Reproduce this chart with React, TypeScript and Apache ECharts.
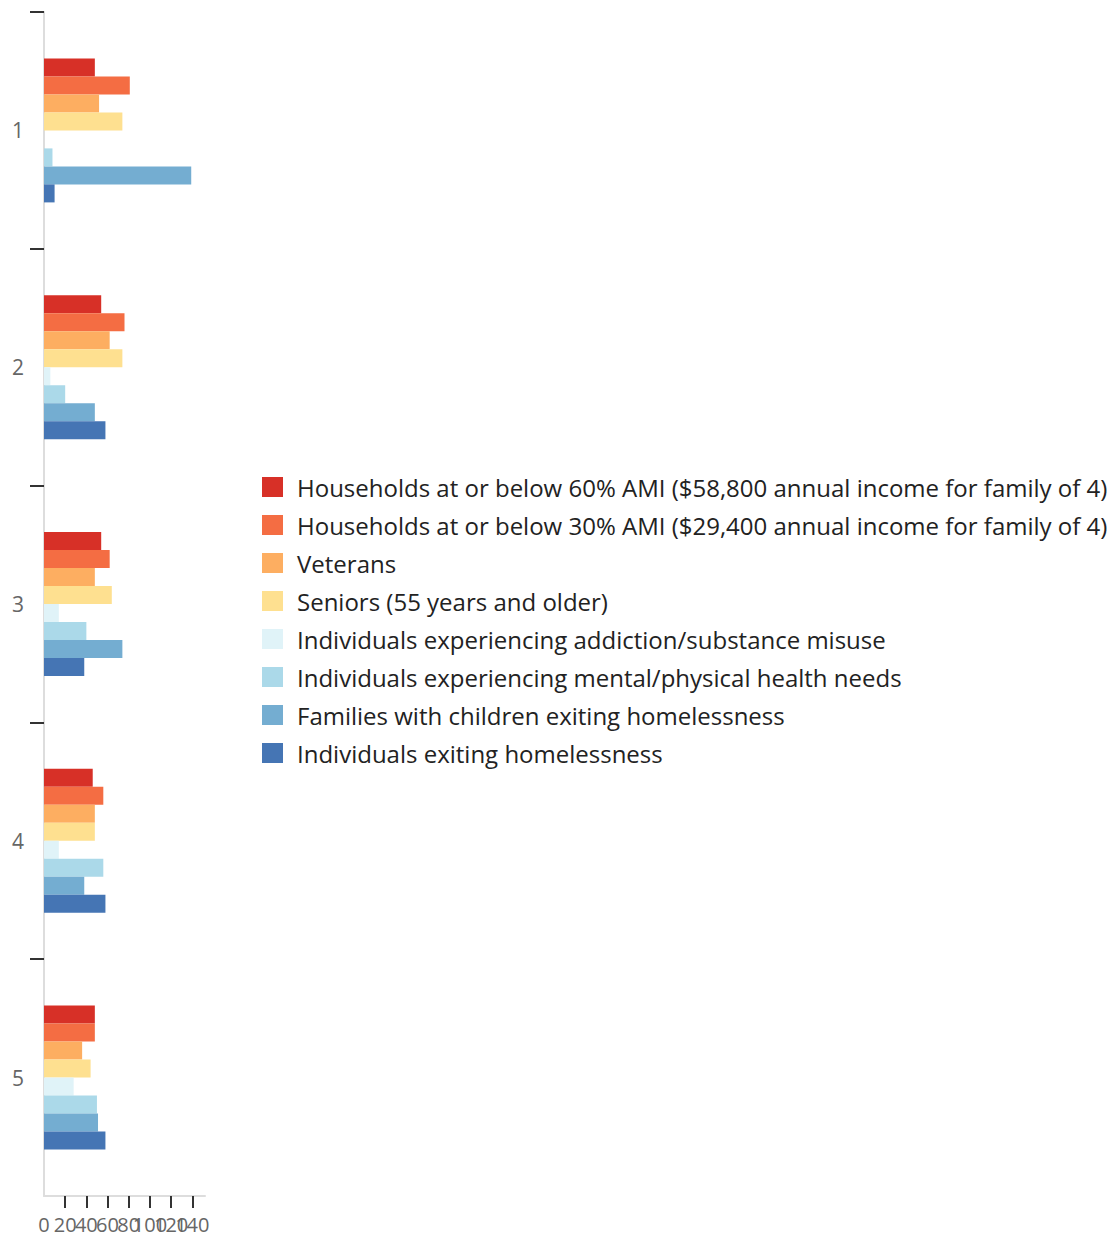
import React, { useEffect, useRef } from "react";
import * as echarts from "echarts";

const categories = ["1", "2", "3", "4", "5"];
const seriesNames = [
  "Households at or below 60% AMI ($58,800 annual income for family of 4)",
  "Households at or below 30% AMI ($29,400 annual income for family of 4)",
  "Veterans",
  "Seniors (55 years and older)",
  "Individuals experiencing addiction/substance misuse",
  "Individuals experiencing mental/physical health needs",
  "Families with children exiting homelessness",
  "Individuals exiting homelessness",
];
const colors = ["#d73027", "#f46d43", "#fdae61", "#fee090", "#e0f3f8", "#abd9e9", "#74add1", "#4575b4"];
const ami60 = [48, 54, 54, 46, 48];
const ami30 = [81, 76, 62, 56, 48];
const veterans = [52, 62, 48, 48, 36];
const seniors = [74, 74, 64, 48, 44];
const addiction = [0, 6, 14, 14, 28];
const mental = [8, 20, 40, 56, 50];
const families = [139, 48, 74, 38, 51];
const individuals = [10, 58, 38, 58, 58];
const seriesValues = [ami60, ami30, veterans, seniors, addiction, mental, families, individuals];
// x tick labels, split into two interleaved sets so that the overlapping labels are all kept
const xTickLabelsEven = [0, 40, 80, 120];
const xTickLabelsOdd = [20, 60, 100, 140];
const yBoundaryTicks = [0, 1, 2, 3, 4];

const FONT = "Open Sans";
const X_MAX = 152;

function xAxisDef(labels: number[], ticks: number[], showLine: boolean) {
  return {
    type: "value",
    position: "bottom",
    min: 0,
    max: X_MAX,
    interval: 20,
    splitLine: { show: false },
    axisLine: { show: showLine, onZero: false, lineStyle: { color: "#dddddd", width: 2 } },
    axisTick: { show: true, length: 12, lineStyle: { color: "#333", width: 2 }, customValues: ticks },
    axisLabel: {
      fontFamily: FONT,
      fontSize: 20,
      color: "#666",
      margin: 18,
      customValues: labels,
      hideOverlap: false,
      showMaxLabel: true,
      showMinLabel: true,
    },
  };
}

export default function App() {
  const ref = useRef<HTMLDivElement>(null);
  useEffect(() => {
    if (!ref.current) return;
    const chart = echarts.init(ref.current, null, { renderer: "svg" });
    chart.setOption({
      animation: false,
      color: colors,
      textStyle: { fontFamily: FONT },
      grid: { left: 44, right: 915, top: 12, bottom: 41, containLabel: false },
      legend: {
        orient: "vertical",
        left: 262,
        top: 475,
        padding: 0,
        itemWidth: 21,
        itemHeight: 20,
        itemGap: 14,
        icon: "rect",
        textStyle: { fontFamily: FONT, fontSize: 24, color: "#222", padding: [0, 0, 0, 9] },
        data: seriesNames,
      },
      xAxis: [
        xAxisDef(xTickLabelsEven, xTickLabelsEven.filter((v) => v > 0), true),
        xAxisDef(xTickLabelsOdd, xTickLabelsOdd, false),
      ],
      yAxis: [
        {
          type: "category",
          data: categories,
          inverse: true,
          axisLine: { show: true, lineStyle: { color: "#dddddd", width: 2 } },
          axisTick: { show: false },
          axisLabel: { fontFamily: FONT, fontSize: 21, color: "#666", margin: 20 },
        },
        {
          type: "value",
          position: "left",
          min: 0,
          max: 5,
          interval: 1,
          inverse: true,
          splitLine: { show: false },
          axisLine: { show: false },
          axisLabel: { show: false },
          axisTick: { show: true, length: 14, lineStyle: { color: "#333", width: 2 }, customValues: yBoundaryTicks },
        },
      ],
      series: seriesNames.map((name, i) => ({
        name,
        type: "bar",
        xAxisIndex: 0,
        yAxisIndex: 0,
        data: seriesValues[i],
        barWidth: 18,
        barGap: "0%",
        itemStyle: { color: colors[i] },
      })),
    });
    return () => chart.dispose();
  }, []);
  return <div ref={ref} style={{ position: "absolute", left: 0, top: 0, width: 1120, height: 1237 }} />;
}
